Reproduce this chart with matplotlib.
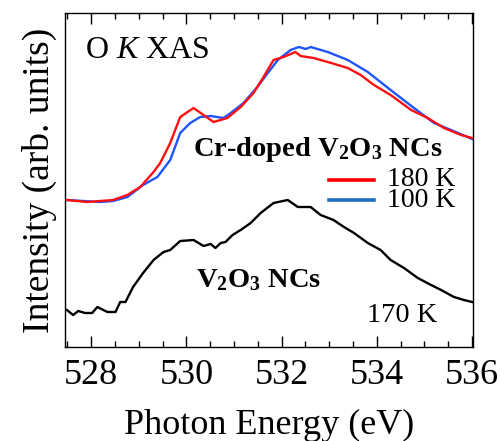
import matplotlib
matplotlib.use("Agg")
import matplotlib.pyplot as plt
from matplotlib.ticker import MultipleLocator

plt.rcParams['font.family'] = ['Liberation Serif', 'DejaVu Serif']
plt.rcParams['mathtext.fontset'] = 'custom'
plt.rcParams['mathtext.rm'] = 'Liberation Serif'
plt.rcParams['mathtext.it'] = 'Liberation Serif:italic'
plt.rcParams['mathtext.bf'] = 'Liberation Serif:bold'

red_e = [527.49, 527.91, 528.19, 528.46, 528.76, 529.03, 529.31, 529.45, 529.66, 529.87,
         530.15, 530.36, 530.57, 530.86, 531.14, 531.41, 531.62, 531.83, 532.04, 532.29,
         532.40, 532.67, 532.97, 533.39, 533.66, 533.94, 534.29, 534.72, 535.07, 535.41,
         535.77, 536.0]
red_i = [147, 145, 146, 147, 152, 160, 175, 184, 204, 230,
         239, 232, 225, 229, 240, 254, 270, 287, 290, 295,
         291, 289, 285, 279, 272, 262, 252, 237, 229, 219,
         212, 209]

blue_e = [527.49, 528.19, 528.46, 528.76, 529.09, 529.39, 529.66, 529.87, 530.08, 530.29,
          530.51, 530.78, 530.93, 531.20, 531.49, 531.71, 531.92, 532.19, 532.36, 532.51,
          532.61, 532.97, 533.39, 533.81, 534.29, 534.78, 535.20, 535.56, 536.0]
blue_i = [147, 145, 146, 150, 162, 170, 187, 214, 224, 230,
          231, 229, 234, 244, 260, 274, 287, 297, 300, 298,
          300, 295, 287, 275, 257, 239, 224, 217, 208]

black_e = [527.49, 527.62, 527.73, 527.87, 528.02, 528.13, 528.34, 528.51, 528.61, 528.72,
           528.88, 529.09, 529.31, 529.52, 529.66, 529.87, 530.15, 530.36, 530.51, 530.61,
           530.72, 530.82, 530.97, 531.14, 531.35, 531.56, 531.83, 532.13, 532.34, 532.61,
           532.82, 533.09, 533.31, 533.52, 533.81, 534.08, 534.29, 534.57, 534.86, 535.14,
           535.35, 535.62, 535.83, 536.0]
black_i = [37, 32, 36, 34, 34, 40, 35, 35, 45, 45,
           60, 74, 87, 95, 97, 106, 107, 101, 103, 99,
           104, 105, 112, 117, 124, 134, 144, 147, 140, 140,
           132, 127, 120, 114, 104, 97, 87, 79, 69, 62,
           57, 50, 47, 45]

xticks = [528, 530, 532, 534, 536]

fig = plt.figure(figsize=(5.0, 4.41), dpi=100)
ax = fig.add_axes([65/500, 1-347/441, 408/500, 334/441])

ax.plot(red_e, red_i, color='#ff1010', lw=1.7, zorder=3)
ax.plot(blue_e, blue_i, color='#1f55ff', lw=1.7, zorder=2)
ax.plot(black_e, black_i, color='black', lw=1.7)

ax.set_xlim(527.45, 536.02)
ax.set_ylim(0, 334)
ax.set_xticks(xticks)
ax.xaxis.set_minor_locator(MultipleLocator(0.5))
ax.set_yticks([])
ax.tick_params(axis='x', which='both', direction='in', top=True, bottom=True,
               labelsize=26, pad=9)
ax.tick_params(axis='x', which='major', length=8, width=1)
ax.tick_params(axis='x', which='minor', length=4, width=1)
for s in ax.spines.values():
    s.set_linewidth(1.0)

ax.set_xlabel('Photon Energy (eV)', fontsize=26, labelpad=12)
ax.set_ylabel('Intensity (arb. units)', fontsize=27, labelpad=6)

# annotations
ax.text(527.87, 297, r'O $\mathit{K}$ XAS', fontsize=23, va='center', ha='left')
ax.text(532.75, 197, r'Cr-doped V$_\mathbf{2}$O$_\mathbf{3}$ NCs', fontsize=20.5,
        fontweight='bold', ha='center', va='center')
ax.plot([532.99, 533.94], [167, 167], color='#ff0000', lw=2.6)
ax.plot([532.99, 533.94], [147, 147], color='#1f6fbf', lw=2.6)
ax.text(534.22, 168, '180 K', fontsize=20, va='center', ha='left')
ax.text(534.22, 146, '100 K', fontsize=20, va='center', ha='left')
ax.text(531.52, 67, r'V$_\mathbf{2}$O$_\mathbf{3}$ NCs', fontsize=20.5,
        fontweight='bold', ha='center', va='center')
ax.text(533.8, 32, '170 K', fontsize=20.5, va='center', ha='left')

fig.savefig('out.png', dpi=100)
